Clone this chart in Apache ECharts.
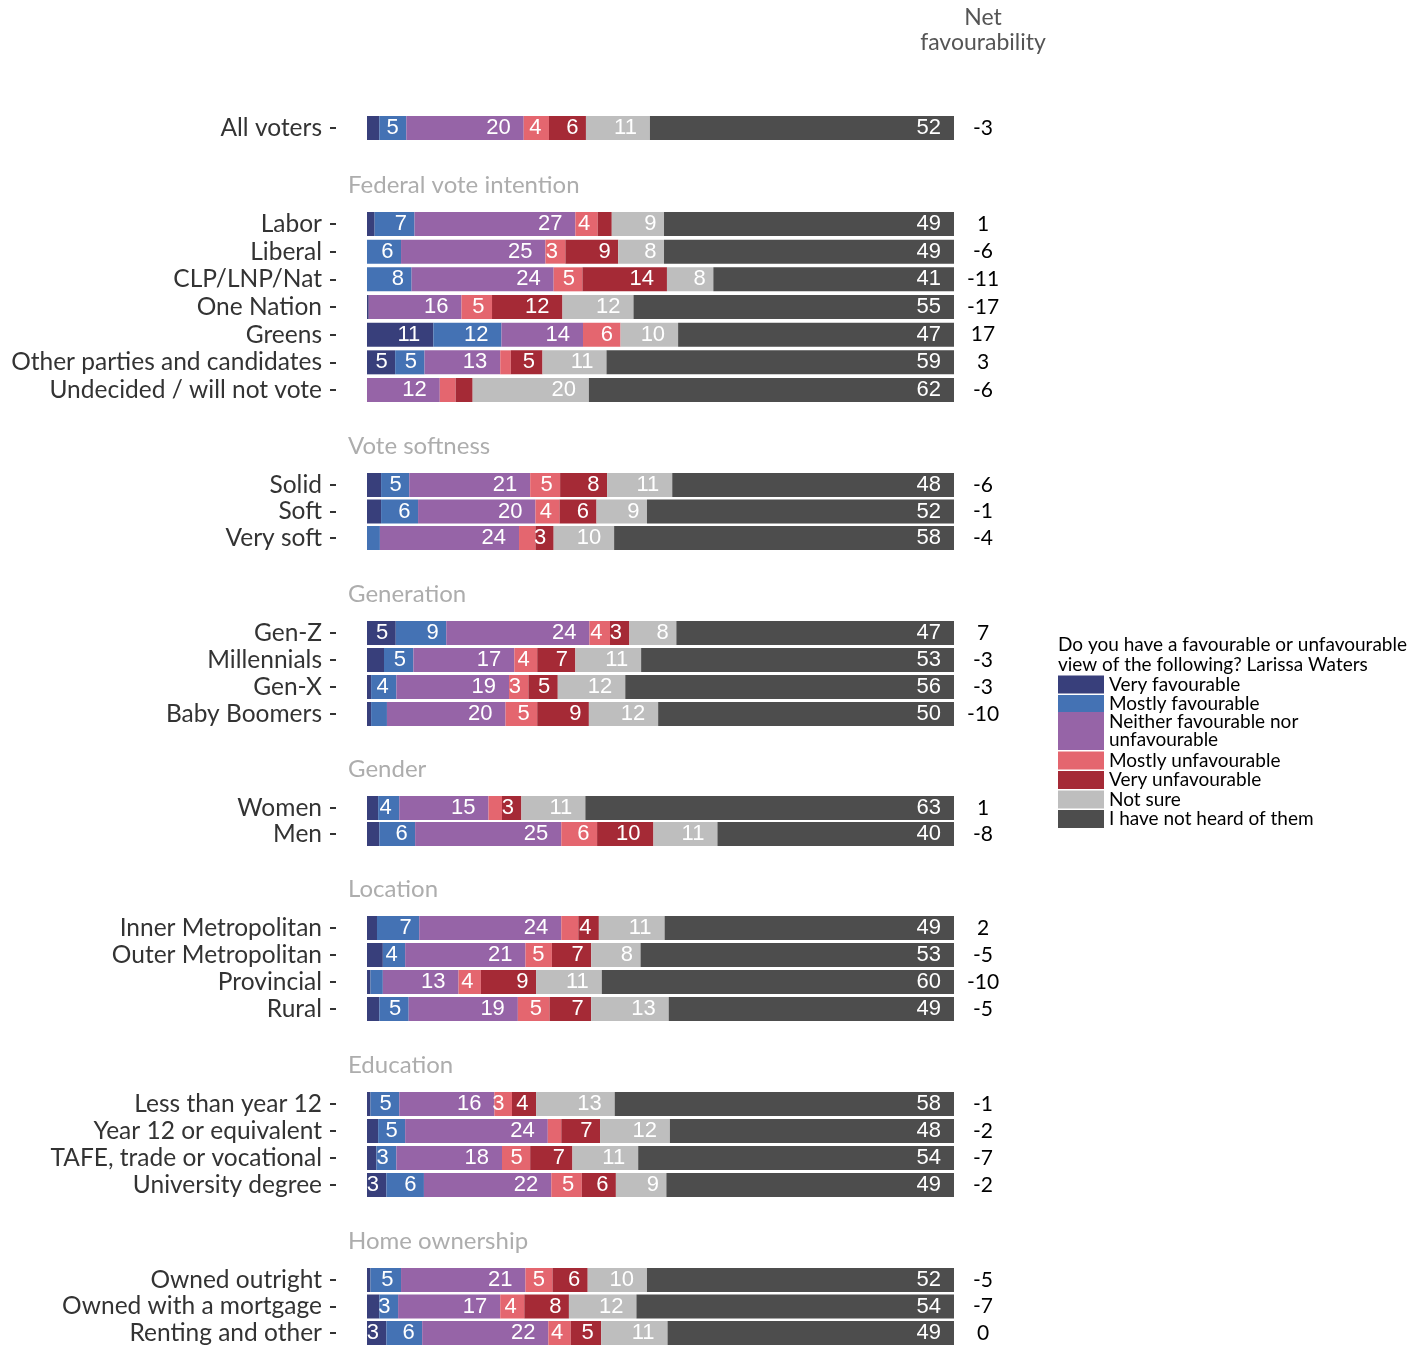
<!DOCTYPE html>
<html>
<head>
<meta charset="utf-8">
<script src="https://cdn.jsdelivr.net/npm/echarts@6/dist/echarts.min.js"></script>
<style>
  html, body { margin: 0; padding: 0; background: #fff; }
  #chart { width: 1414px; height: 1347px; }
</style>
</head>
<body>
<div id="chart"></div>
<script>
// 分组标题（第一组没有标题）
var groupNames = ['', 'Federal vote intention', 'Vote softness', 'Generation', 'Gender', 'Location', 'Education', 'Home ownership']
var groupRows = [
  ['All voters'],
  ['Labor', 'Liberal', 'CLP/LNP/Nat', 'One Nation', 'Greens', 'Other parties and candidates', 'Undecided / will not vote'],
  ['Solid', 'Soft', 'Very soft'],
  ['Gen-Z', 'Millennials', 'Gen-X', 'Baby Boomers'],
  ['Women', 'Men'],
  ['Inner Metropolitan', 'Outer Metropolitan', 'Provincial', 'Rural'],
  ['Less than year 12', 'Year 12 or equivalent', 'TAFE, trade or vocational', 'University degree'],
  ['Owned outright', 'Owned with a mortgage', 'Renting and other']
]
var responses = ['Very favourable', 'Mostly favourable', 'Neither favourable nor unfavourable',
  'Mostly unfavourable', 'Very unfavourable', 'Not sure', 'I have not heard of them']

// 每个回答的百分比，按上面行的顺序
var veryFav = [2.1, 1.3, 0, 0, 0.3, 11.3, 4.8, 0, 2.4, 2.4, 0, 4.9, 2.9, 0.7, 0.7, 1.9, 2.1, 1.7, 2.7, 0.6, 2.1, 0.6, 1.9, 1.6, 3.3, 0.6, 2.1, 3.3]
var mostlyFav = [4.6, 6.8, 5.8, 7.6, 0, 11.6, 5.0, 0, 4.8, 6.3, 2.2, 8.6, 5.0, 4.3, 2.7, 3.6, 6.1, 7.2, 3.8, 2.1, 5.0, 4.9, 4.6, 3.4, 6.4, 5.2, 3.2, 6.1]
var neither = [20.0, 27.4, 24.6, 24.2, 15.8, 13.9, 12.9, 12.4, 20.6, 20.0, 23.7, 24.4, 17.2, 19.2, 20.2, 15.2, 24.9, 24.2, 20.5, 12.9, 18.6, 16.2, 24.3, 18.0, 21.7, 21.2, 17.4, 21.5]
var mostlyUnfav = [4.3, 3.8, 3.4, 4.9, 5.2, 6.4, 1.8, 2.7, 5.1, 4.1, 2.8, 3.5, 3.9, 3.3, 5.4, 2.3, 6.1, 2.9, 4.5, 3.8, 5.4, 3.0, 2.3, 4.8, 5.2, 4.6, 4.1, 3.8]
var veryUnfav = [6.3, 2.4, 9.0, 14.4, 12.0, 0, 5.4, 2.9, 8.0, 6.3, 3.1, 3.3, 6.5, 5.0, 8.8, 3.3, 9.6, 3.5, 6.7, 9.4, 7.1, 4.1, 6.6, 7.2, 5.8, 6.0, 7.6, 5.2]
var notSure = [10.9, 8.9, 7.8, 7.9, 12.1, 9.8, 10.9, 19.8, 11.1, 8.6, 10.3, 8.0, 11.2, 11.5, 11.8, 10.9, 10.9, 11.2, 8.4, 11.2, 13.2, 13.4, 11.9, 11.2, 8.6, 10.1, 11.5, 11.3]
var notHeard = [51.8, 49.4, 49.4, 41.0, 54.6, 47.0, 59.2, 62.2, 48.0, 52.3, 57.9, 47.3, 53.3, 56.0, 50.4, 62.8, 40.3, 49.3, 53.4, 60.0, 48.6, 57.8, 48.4, 53.8, 49.0, 52.3, 54.1, 48.8]
var netFav = [-3, 1, -6, -11, -17, 17, 3, -6, -6, -1, -4, 7, -3, -3, -10, 1, -8, 2, -5, -10, -5, -1, -2, -7, -2, -5, -7, 0]

var seriesValues = [veryFav, mostlyFav, neither, mostlyUnfav, veryUnfav, notSure, notHeard]
var colors = ['#383f7b', '#4472b4', '#9664a7', '#e4666f', '#a52a36', '#bebebe', '#4d4d4d']

// 版面：每组第一行和最后一行的中心 y 坐标
var firstRowY = [128, 224, 485, 633, 808, 928, 1104, 1280]
var lastRowY = [128, 390, 538, 714, 834, 1009, 1185, 1333]
var axisX = 336 // 刻度线所在位置，条形从 0 开始（约 367px）
var plotRight = 954
var xPad = 5.28 // 0 左侧留白（单位：百分比）
var labelFont = 'Lato, "Noto Sans", sans-serif'

var chart = echarts.init(document.getElementById('chart'))

var grids = []
var xAxes = []
var yAxes = []
var series = []
var titles = []
var offset = 0 // 当前组在扁平数组中的起始下标

groupRows.forEach(function(rows, g) {
  var n = rows.length
  var band = n > 1 ? (lastRowY[g] - firstRowY[g]) / (n - 1) : 27
  grids.push({
    left: axisX,
    width: plotRight - axisX,
    top: firstRowY[g] - band / 2,
    height: band * n
  })
  xAxes.push({
    type: 'value', gridIndex: g, min: -xPad, max: 100, show: false,
    axisLine: { show: false }, axisTick: { show: false }, splitLine: { show: false }, axisLabel: { show: false }
  })
  var start = offset
  yAxes.push({
    type: 'category',
    gridIndex: g,
    data: rows,
    inverse: true,
    position: 'left',
    axisLine: { show: false, onZero: false },
    axisTick: { show: true, alignWithLabel: true, length: 6, lineStyle: { color: '#333', width: 2 } },
    axisLabel: { interval: 0, margin: 14, fontFamily: labelFont, fontSize: 24.5, color: '#333' },
    splitLine: { show: false }
  })
  yAxes.push({
    type: 'category',
    gridIndex: g,
    data: rows,
    inverse: true,
    position: 'right',
    axisLine: { show: false, onZero: false },
    axisTick: { show: false },
    axisLabel: {
      interval: 0,
      margin: 29,
      align: 'center',
      fontFamily: labelFont,
      fontSize: 21,
      color: '#000',
      formatter: function(value, idx) { return String(netFav[start + idx]) }
    },
    splitLine: { show: false }
  })
  if (groupNames[g]) {
    titles.push({
      text: groupNames[g],
      left: 348,
      top: firstRowY[g] - 40 - 11,
      padding: 0,
      textStyle: { fontFamily: labelFont, fontSize: 24, fontWeight: 'normal', color: '#adadad' }
    })
  }
  responses.forEach(function(name, r) {
    var data = []
    for (var i = 0; i < n; i++) {
      var v = seriesValues[r][start + i]
      var digits = String(Math.round(v)).length
      data.push({
        value: v,
        label: { show: v >= 3, distance: digits > 1 ? 13 : 7.5 }
      })
    }
    series.push({
      name: name,
      type: 'bar',
      xAxisIndex: g,
      yAxisIndex: g * 2,
      stack: 'grp' + g,
      barWidth: 24,
      itemStyle: { color: colors[r] },
      label: {
        position: 'insideRight',
        color: '#fff',
        fontFamily: '"Liberation Sans", Arial, sans-serif',
        fontSize: 22,
        formatter: function(p) { return String(Math.round(p.value)) }
      },
      data: data
    })
  })
  offset += n
})

titles.push({
  text: 'Do you have a favourable or unfavourable\nview of the following? Larissa Waters',
  left: 1058,
  top: 635,
  padding: 0,
  textStyle: { fontFamily: labelFont, fontSize: 19, fontWeight: 'normal', color: '#000', lineHeight: 20 }
})

// 图例分三段，让“Neither”那一项的色块占两行高
var legendText = { fontFamily: labelFont, fontSize: 19, color: '#000', lineHeight: 18 }
function legendPart(names, top, h) {
  return {
    orient: 'vertical',
    left: 1058,
    top: top,
    padding: 0,
    itemGap: 0.5,
    itemWidth: 46,
    itemHeight: h,
    icon: 'rect',
    data: names,
    formatter: function(name) {
      return name === 'Neither favourable nor unfavourable' ? 'Neither favourable nor\nunfavourable' : name
    },
    textStyle: legendText
  }
}

chart.setOption({
  animation: false,
  backgroundColor: '#fff',
  title: titles,
  graphic: [{
    type: 'text',
    x: 983,
    y: 5,
    style: {
      text: 'Net\nfavourability',
      align: 'center',
      fontFamily: labelFont,
      fontSize: 23,
      lineHeight: 25,
      fill: '#555'
    }
  }],
  legend: [
    legendPart(responses.slice(0, 2), 675, 18),
    legendPart(responses.slice(2, 3), 712, 38),
    legendPart(responses.slice(3), 751, 18)
  ],
  grid: grids,
  xAxis: xAxes,
  yAxis: yAxes,
  series: series
})
</script>
</body>
</html>
